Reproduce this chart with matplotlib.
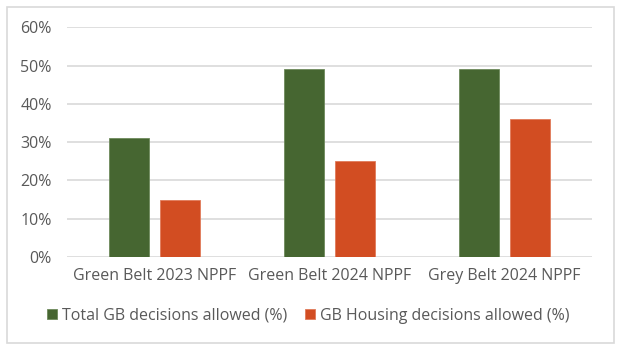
import matplotlib

matplotlib.use("Agg")

import matplotlib.pyplot as plt
import numpy as np
from matplotlib.patches import Rectangle
from matplotlib.ticker import PercentFormatter

categories = ["Green Belt 2023 NPPF", "Green Belt 2024 NPPF", "Grey Belt 2024 NPPF"]
total_allowed = [31, 49, 49]
housing_allowed = [15, 25, 36]
series_names = ["Total GB decisions allowed (%)", "GB Housing decisions allowed (%)"]

GREEN = "#466631"
ORANGE = "#D24D22"
TEXT = "#595959"
GRID = "#D9D9D9"

plt.rcParams["font.family"] = ["Open Sans", "DejaVu Sans"]

fig = plt.figure(figsize=(6.17, 3.51), dpi=100)
ax = fig.add_axes([0.1086, 0.2678, 0.851, 0.6544])

x = np.arange(len(categories))
width = 0.23
offset = 0.144
ax.bar(x - offset, total_allowed, width, color=GREEN, edgecolor="#6E8A5C",
       linewidth=0.6, label=series_names[0], zorder=3)
ax.bar(x + offset, housing_allowed, width, color=ORANGE, edgecolor="#E07A5A",
       linewidth=0.6, label=series_names[1], zorder=3)

ax.set_xlim(-0.5, 2.5)
ax.set_ylim(0, 60)
ax.set_yticks(range(0, 61, 10))
ax.yaxis.set_major_formatter(PercentFormatter(decimals=0))
ax.grid(axis="y", color=GRID, linewidth=1.2, zorder=0)
ax.set_xticks(x)
ax.set_xticklabels(categories)
ax.tick_params(axis="both", length=0, labelsize=11.5, colors=TEXT)
ax.tick_params(axis="y", pad=11)
ax.tick_params(axis="x", pad=8)
for spine in ax.spines.values():
    spine.set_visible(False)

ax.legend(loc="center", bbox_to_anchor=(0.5, 1 - 316 / 351),
          bbox_transform=fig.transFigure, ncol=2, frameon=False,
          fontsize=11.5, labelcolor=TEXT, handlelength=0.6, handleheight=0.6,
          handletextpad=0.35, columnspacing=1.1)

fig.patches.append(Rectangle((6.7 / 617, 1 - 343 / 351), (614 - 6.7) / 617,
                             (343 - 6.7) / 351, transform=fig.transFigure,
                             fill=False, edgecolor=GRID, linewidth=1.2))

fig.savefig("out.png", dpi=100)
plt.close(fig)
